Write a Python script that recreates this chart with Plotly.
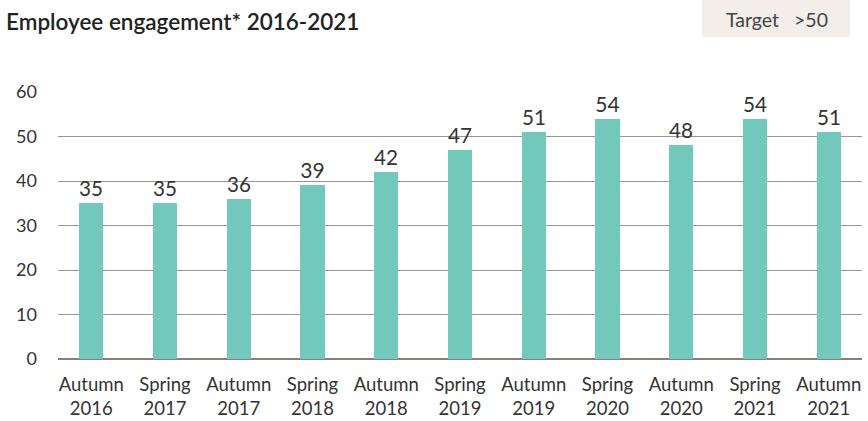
import plotly.graph_objects as go

periods = ["Autumn<br>2016", "Spring<br>2017", "Autumn<br>2017", "Spring<br>2018",
           "Autumn<br>2018", "Spring<br>2019", "Autumn<br>2019", "Spring<br>2020",
           "Autumn<br>2020", "Spring<br>2021", "Autumn<br>2021"]
engagement = [35, 35, 36, 39, 42, 47, 51, 54, 48, 54, 51]
y_ticks = [0, 10, 20, 30, 40, 50, 60]

BAR = "#72c9bb"
GRID = "#9e948c"
TEXT = "#333333"
FONT = "Lato"

fig = go.Figure()
fig.add_trace(go.Bar(
    x=list(range(len(periods))),
    y=engagement,
    width=0.33,
    marker=dict(color=BAR, line=dict(width=0)),
    text=[str(v) for v in engagement],
    textposition="outside",
    textfont=dict(family=FONT, size=21, color=TEXT),
    cliponaxis=False,
    hoverinfo="skip",
))

fig.update_layout(
    width=868, height=421,
    margin=dict(l=58, r=6, t=92, b=62, autoexpand=False),
    plot_bgcolor="white", paper_bgcolor="white",
    showlegend=False,
    bargap=0,
    xaxis=dict(
        tickmode="array",
        tickvals=list(range(len(periods))),
        ticktext=periods,
        range=[-0.45, len(periods) - 0.55],
        showgrid=False, zeroline=False,
        showline=False,
        ticks="",
        automargin=False,
        ticklabelstandoff=12,
        tickfont=dict(family=FONT, size=18.5, color=TEXT),
    ),
    yaxis=dict(
        range=[0, 60],
        tickvals=y_ticks,
        showgrid=True, gridcolor=GRID, gridwidth=1,
        zeroline=True, zerolinecolor="#8a7f78", zerolinewidth=1.5,
        showline=False,
        ticks="",
        automargin=False,
        ticklabelstandoff=20,
        tickfont=dict(family=FONT, size=18, color=TEXT),
    ),
    font=dict(family=FONT, color=TEXT),
)

fig.add_annotation(
    text="Employee engagement* 2016-2021",
    xref="paper", yref="paper",
    x=0, y=1, xanchor="left", yanchor="top",
    xshift=-54, yshift=86,
    showarrow=False,
    font=dict(family=FONT, size=22.5, color="#222222", weight=600),
)

fig.add_shape(
    type="rect", xref="paper", yref="paper",
    x0=(702 - 58) / 804, x1=(850 - 58) / 804,
    y0=1 + (92 - 37) / 267, y1=1 + 92 / 267,
    fillcolor="#f3eee9", line=dict(width=0), layer="below",
)
fig.add_annotation(
    text="Target   >50",
    xref="paper", yref="paper",
    x=(777 - 58) / 804, y=1 + (92 - 19) / 267,
    xanchor="center", yanchor="middle",
    showarrow=False,
    font=dict(family=FONT, size=19.5, color="#444444"),
)

fig.write_html("out.html")
